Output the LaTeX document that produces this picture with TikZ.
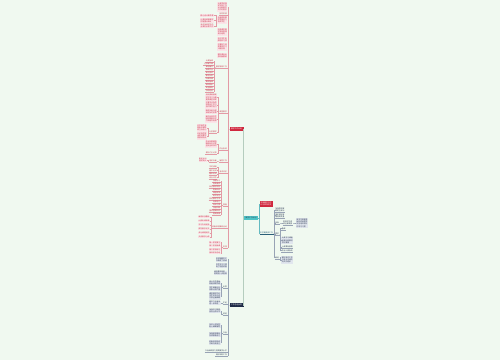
\documentclass[tikz,border=0pt]{standalone}
\usepackage{fontspec}
\newfontfamily\cjk{Noto Sans CJK SC}
\XeTeXlinebreaklocale "zh"
\definecolor{bg}{HTML}{F0F9F0}
\definecolor{redfill}{HTML}{D0283E}
\definecolor{pinkf}{HTML}{FBE4E8}
\definecolor{redt}{HTML}{C8374C}
\definecolor{redl}{HTML}{E39AA5}
\definecolor{navyfill}{HTML}{1F2B47}
\definecolor{navyf}{HTML}{E1E6EE}
\definecolor{navyt}{HTML}{2E3B55}
\definecolor{navyl}{HTML}{98A3B5}
\definecolor{rootfill}{HTML}{4EC4C6}
\definecolor{rootl}{HTML}{B5CDBE}
\definecolor{tealt}{HTML}{2A5F78}
\tikzset{
  base/.style={font=\cjk\fontsize{1.8}{2.2}\selectfont, inner sep=0.5pt, align=left},
  rbox/.style={base, fill=pinkf, text=redt},
  rlab/.style={base, text=redt, append after command={(\tikzlastnode.south west) edge[draw=redl,line width=.3pt] (\tikzlastnode.south east)}},
  nbox/.style={base, fill=navyf, text=navyt},
  nlab/.style={base, text=navyt, append after command={(\tikzlastnode.south west) edge[draw=navyl,line width=.3pt] (\tikzlastnode.south east)}},
  rl/.style={draw=redl, line width=.35pt},
  nl/.style={draw=navyl, line width=.35pt},
  ml/.style={draw=rootl, line width=.4pt},
  tl/.style={draw=rootfill!70!navyl, line width=.4pt},
  Ll/.style={anchor=east},
  Rr/.style={anchor=west},
}
\newcommand\lkL[4]{\draw[#1] (#2.west) -- ++(-#4,0) |- (#3.east);}
\newcommand\lkR[4]{\draw[#1] (#2.east) -- ++(#4,0) |- (#3.west);}
\begin{document}
\begin{tikzpicture}[x=1pt,y=-1pt]
\fill[bg] (0,0) rectangle (500,360);
\useasboundingbox (0,0) rectangle (500,360);

% ---------- main nodes ----------
\node[base, fill=rootfill, text=navyt, minimum width=14pt, minimum height=4pt] (R) at (251,218) {教学工作计划};
\node[base, fill=redfill, text=white, minimum width=14pt, minimum height=4pt] (A) at (236.5,129) {教学工作计划};
\node[base, fill=navyfill, text=white, minimum width=14pt, minimum height=4pt] (B) at (236.5,305) {工作总结反思};
\node[base, fill=redfill, text=white, inner sep=1pt, Rr] (C) at (259.5,204) {学期教学工作\\计划安排范文};
\node[base, text=tealt, Rr, append after command={(\tikzlastnode.south west) edge[draw=tealt,line width=.4pt] (\tikzlastnode.south east)}] (D) at (259.5,233) {本学期具体工作};
\lkL{ml}{R}{A}{0.6}
\lkL{ml}{R}{B}{0.6}
\lkR{tl}{R}{C}{0.7}
\lkR{tl}{R}{D}{0.7}

% ---------- red branch ----------
\node[rbox,Ll] (a1) at (227.5,7) {认真贯彻落\\实学校工作\\计划和教学\\工作的要求};
\node[rlab,Ll] (a2) at (227.5,13.5) {指导思想};
\node[rbox,Ll] (a3) at (227.5,20) {全面提高教\\学质量努力\\培养学生};
\node[rbox,Ll] (a4) at (227.5,32) {加强课堂教\\学常规管理\\优化结构};
\node[rbox,Ll] (a5) at (227.5,39.5) {关注学生发\\展培养习惯};
\node[rbox,Ll] (a6) at (227.5,47) {注重能力培\\养激发学习\\兴趣热情};
\node[rbox,Ll] (a7) at (227.5,55.5) {做好课后反\\思积极教研};
\node[rlab,Ll] (a8) at (227.5,67) {教学常规工作};
\node[rlab,Ll] (a9) at (227.5,112) {课堂教学};
\node[rlab,Ll] (a10) at (227.5,149) {作业批改};
\node[rlab,Ll] (a11) at (227.5,161) {辅导工作};
\node[rlab,Ll] (a12) at (227.5,172) {考试评价};
\node[rlab,Ll] (a13) at (227.5,205) {措施};
\node[rlab,Ll] (a14) at (227.5,227) {积极参加教研活动};
\node[rlab,Ll] (a15) at (227.5,247) {安排};
\foreach \c in {a1,a2,a3,a4,a5,a6,a7,a8,a9,a10,a11,a12,a13,a14,a15}{\lkL{rl}{A}{\c}{1}}

\node[rbox,Ll] (a31) at (214,15.5) {精心设计每节课};
\node[rbox,Ll] (a32) at (214,20.5) {认真钻研新教材\\把握重点难点};
\node[rbox,Ll] (a33) at (214,26) {及时批改学生作\\业做好反馈工作};
\foreach \c in {a31,a32,a33}{\lkL{rl}{a3}{\c}{0.8}}

\foreach \y/\t [count=\i] in {61/认真备课,64/上好每节课,67/课后辅导,70/批改作业,73/单元测试,76/教学反思,79/听课评课,82/集体备课,85/家校联系,88/安全教育,91/总结经验}{
  \node[rlab,Ll] (a8\i) at (213.7,\y) {\t};
  \lkL{rl}{a8}{a8\i}{1}
}

\node[rbox,Ll] (a91) at (217.3,97.5) {创设情境激发\\学生学习兴趣\\提高课堂效率};
\node[rbox,Ll] (a92) at (217.3,105) {注重学法指导\\培养自主学习\\合作探究能力};
\node[rbox,Ll] (a93) at (217.3,111.5) {精讲多练当堂\\训练及时反馈};
\node[rbox,Ll] (a94) at (217.3,119) {面向全体学生\\因材施教关注\\个体差异发展};
\node[rlab,Ll] (a95) at (217.3,132) {分层教学};
\foreach \c in {a91,a92,a93,a94,a95}{\lkL{rl}{a9}{\c}{1}}
\node[rbox,Ll] (a951) at (207.1,128) {对学困生多\\鼓励多辅导\\树立自信心};
\node[rbox,Ll] (a952) at (207.1,136) {对优等生提\\出更高要求\\发展其特长};
\lkL{rl}{a95}{a951}{1}
\lkL{rl}{a95}{a952}{1}

\node[rbox,Ll] (a101) at (217.3,144) {作业布置精选\\精练有针对性\\全批全改及时};
\node[rlab,Ll] (a102) at (217.3,153) {做好订正记录};
\lkL{rl}{a10}{a101}{1}
\lkL{rl}{a10}{a102}{1}

\node[rlab,Ll] (a111) at (217.3,161) {培优补差};
\lkL{rl}{a11}{a111}{1}
\node[rbox,Ll] (a1111) at (207.1,160) {制定计划\\落实到人};
\lkL{rl}{a111}{a1111}{1}

\foreach \y/\t [count=\i] in {167/平时成绩,170.5/期中考试,174/期末考试,177.5/综合评价}{
  \node[rlab,Ll] (a12\i) at (217.3,\y) {\t};
  \lkL{rl}{a12}{a12\i}{1}
}

\foreach \y/\t [count=\i] in {181/加强学习,184/提高素质,187/转变教学观念,190/更新知识,193/课堂改革,196/研究学生,199/优化教学方法,202/培养能力,205/养成习惯,208/加强训练,211/重视基础知识,214/提高成绩}{
  \node[rlab,Ll] (a13\i) at (220.9,\y) {\t};
  \lkL{rl}{a13}{a13\i}{1}
}

\foreach \y/\t [count=\i] in {217/每周参加教研,221/认真听课评课,225/学习先进经验,229/撰写教学论文,233/参与课题研究,237/交流教学心得}{
  \node[rbox,Ll] (a14\i) at (210.1,\y) {\t};
  \lkL{rl}{a14}{a14\i}{1}
}

\foreach \y/\t [count=\i] in {242.5/第一阶段复习,246/第二阶段新课,249.5/第三阶段练习,253/第四阶段总结}{
  \node[rbox,Ll] (a15\i) at (220.9,\y) {\t};
  \lkL{rl}{a15}{a15\i}{1}
}

% ---------- navy branch ----------
\node[nbox,Ll] (b1) at (227.5,259.5) {本学期教学工\\作取得了成绩};
\node[nbox,Ll] (b2) at (227.5,265.5) {学生学习习惯\\有了明显改善};
\node[nbox,Ll] (b3) at (227.5,273) {课堂教学效率\\得到进一步提高};
\node[nlab,Ll] (b4) at (227.5,287) {反思};
\node[nlab,Ll] (b5) at (227.5,303) {不足};
\node[nlab,Ll] (b6) at (227.5,314) {改进};
\node[nlab,Ll] (b7) at (227.5,333) {今后};
\node[nlab,Ll] (b8) at (227.5,350.5) {今后继续努力提高教学水平};
\node[nlab,Ll] (b9) at (227.5,355) {做好本职工作};
\foreach \c in {b1,b2,b3,b4,b5,b6,b7,b8,b9}{\lkL{nl}{B}{\c}{1}}

\node[nbox,Ll] (b41) at (220.9,283) {部分学生基础\\较差成绩不稳};
\node[nbox,Ll] (b42) at (220.9,288.5) {学生两极分化\\现象比较严重};
\node[nbox,Ll] (b43) at (220.9,296) {课堂教学中对\\学生的关注还\\不够全面细致};
\foreach \c in {b41,b42,b43}{\lkL{nl}{b4}{\c}{1}}
\node[nbox,Ll] (b51) at (220.9,303) {教学方法有待\\进一步改进};
\lkL{nl}{b5}{b51}{1}
\node[nbox,Ll] (b61) at (220.9,311) {加强学习提高\\自身业务水平};
\lkL{nl}{b6}{b61}{1}
\node[nbox,Ll] (b71) at (220.9,325.5) {多关心学困生\\耐心细致辅导};
\node[nbox,Ll] (b72) at (220.9,334.5) {加强家校联系\\形成教育合力};
\node[nbox,Ll] (b73) at (220.9,342.5) {积极参加培训\\不断充实自己};
\foreach \c in {b71,b72,b73}{\lkL{nl}{b7}{\c}{1}}

% ---------- right branch ----------
\node[nlab,Rr] (d1) at (274.6,210) {加强思想教\\育树立目标};
\node[nlab,Rr] (d2) at (274.6,215.5) {落实常规管\\理提高质量};
\node[nlab,Rr] (d3) at (274.6,223) {目标};
\node[nlab,Rr] (d4) at (274.6,234) {要求};
\node[nlab,Rr] (d5) at (274.6,257.5) {其他};
\foreach \c in {d1,d2,d3,d4,d5}{\lkR{nl}{D}{\c}{1}}
\node[nlab,Rr] (e1) at (282.5,223) {提高学生成\\绩全面发展};
\lkR{nl}{d3}{e1}{1}
\node[nbox,Rr] (e2) at (296,223) {使学生掌握基\\础知识和基本\\技能培养良好\\的学习习惯};
\lkR{nl}{e1}{e2}{0.8}
\node[nlab,Rr] (f1) at (281.2,228.5) {备课};
\node[nbox,Rr] (f2) at (281.2,240.5) {认真学习课程\\标准钻研教材\\写好教案};
\node[nlab,Rr] (f3) at (281.2,247) {上课要有激情};
\node[nlab,Rr] (f4) at (281.2,250.5) {作业认真批改};
\foreach \c in {f1,f2,f3,f4}{\lkR{nl}{d4}{\c}{1}}
\node[nbox,Rr] (g1) at (281.2,260) {做好家访工作\\与家长沟通交\\流共同进步};
\lkR{nl}{d5}{g1}{1}
\end{tikzpicture}
\end{document}
